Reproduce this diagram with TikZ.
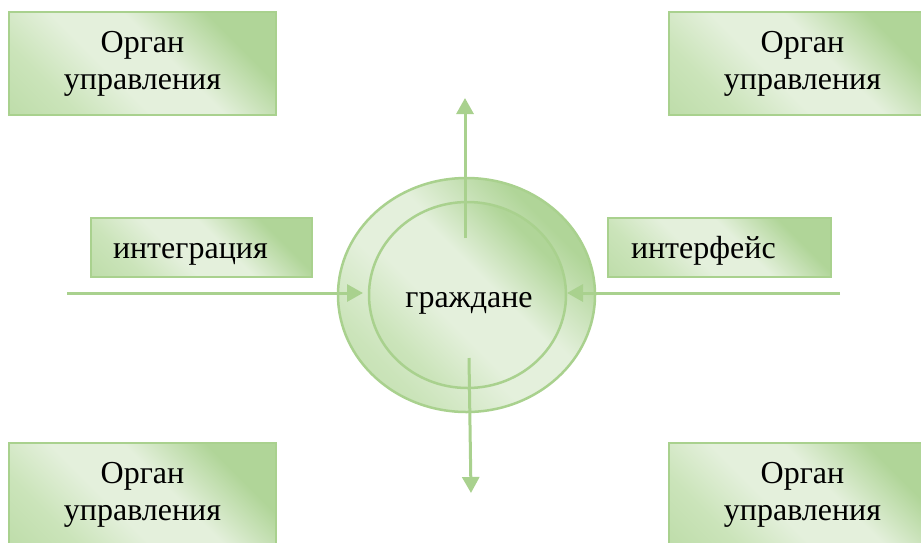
\documentclass[tikz,border=0pt]{standalone}
\usepackage{fontspec}
\setmainfont{Liberation Serif}
\usetikzlibrary{arrows.meta,shapes.geometric}
\definecolor{gborder}{HTML}{A9D18E}
\definecolor{gdark}{HTML}{B0D598}
\definecolor{gmid}{HTML}{CBE4BA}
\definecolor{glight}{HTML}{E4F0DC}
\pgfdeclarehorizontalshading{gband}{100bp}{color(0bp)=(gdark); color(28bp)=(gmid); color(42bp)=(glight); color(56bp)=(glight); color(72bp)=(gdark); color(100bp)=(gdark)}
\begin{document}
\begin{tikzpicture}[x=1pt,y=-1pt,
  box/.style={draw=gborder, line width=2pt, shading=gband, shading angle=45, inner sep=0pt,
    font=\fontsize{32}{37}\selectfont, align=center},
  tagbox/.style={draw=gborder, line width=2pt, shading=gband, shading angle=45, inner ysep=0pt,
    font=\fontsize{32}{37}\selectfont, align=left, text height=22pt, text depth=0pt},
  ring/.style={ellipse, draw=gborder, line width=2.5pt, shading=gband, shading angle=45, inner sep=0pt},
  conn/.style={draw=gborder, line width=3pt, -{Triangle[length=16pt,width=17pt]}}
]
\clip (0,0) rectangle (921,542);
% boxes
\node[box, minimum width=267pt, minimum height=103pt] (tl) at (142.5,63.5) {Орган\\управления};
\node[box, minimum width=267pt, minimum height=103pt] (tr) at (802.5,63.5) {Орган\\управления};
\node[box, minimum width=267pt, minimum height=103pt] (bl) at (142.5,494.5) {Орган\\управления};
\node[box, minimum width=267pt, minimum height=103pt] (br) at (802.5,494.5) {Орган\\управления};
\node[tagbox, minimum width=221pt, minimum height=59pt, inner xsep=22pt, text width=177pt] (integ) at (201.5,247.5) {интеграция};
\node[tagbox, minimum width=223pt, minimum height=59pt, inner xsep=23pt, text width=177pt] (iface) at (719.5,247.5) {интерфейс};
% circle
\node[ring, minimum width=257pt, minimum height=234pt] (outer) at (466.5,295) {};
\node[ring, minimum width=197pt, minimum height=186pt] (inner) at (467.5,295) {};
\node[font=\fontsize{32}{37}\selectfont, inner sep=0pt, anchor=base] (cit) at (469,307) {граждане};
% connector ends
\coordinate (upS) at (465,238);
\coordinate (upE) at (465,98);
\coordinate (dnS) at (469,358);
\coordinate (dnE) at (471,493);
\coordinate (lfS) at (67,293);
\coordinate (lfE) at (363,293);
\coordinate (rtS) at (840,293);
\coordinate (rtE) at (567,293);
\draw[conn] (upS) -- (upE);
\draw[conn] (dnS) -- (dnE);
\draw[conn] (lfS) -- (lfE);
\draw[conn] (rtS) -- (rtE);
\end{tikzpicture}
\end{document}
